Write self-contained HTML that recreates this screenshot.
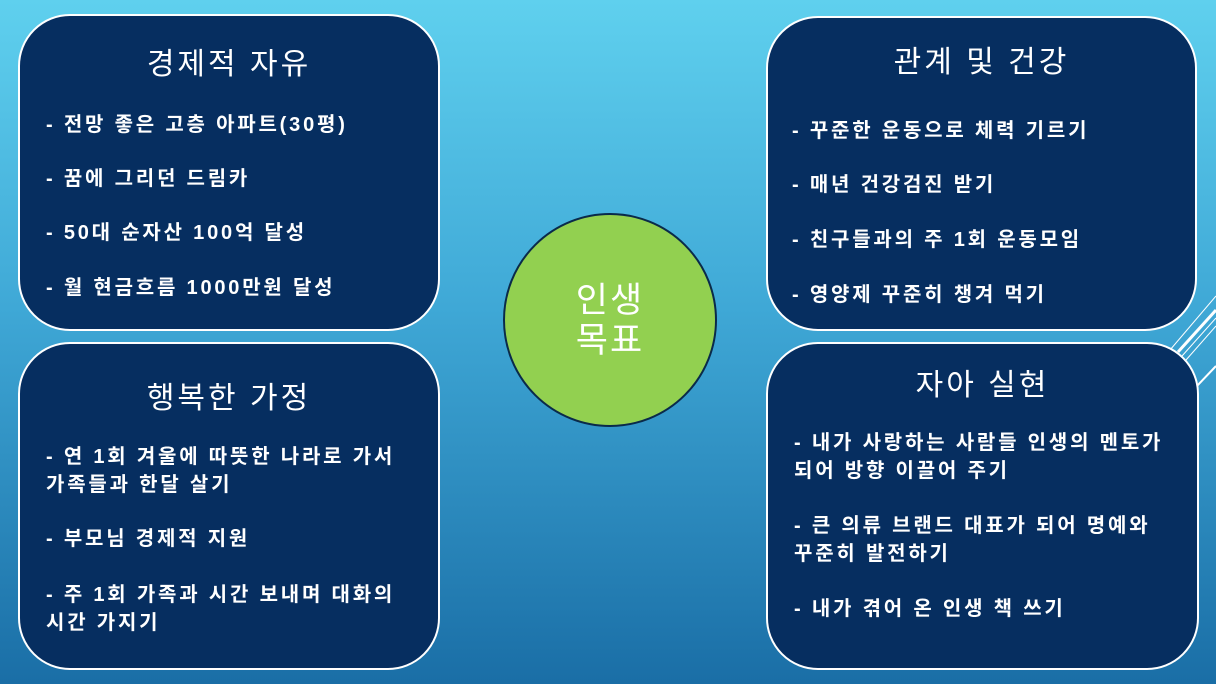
<!DOCTYPE html>
<html><head><meta charset="utf-8"><style>
body{margin:0;width:1216px;height:684px;overflow:hidden;position:relative;
background:linear-gradient(180deg,#5fd0ee 0%,#3fa8d6 45%,#1a6ea6 100%);
font-family:"Liberation Sans","Noto Sans CJK KR","NanumGothic",sans-serif;color:#fff}
.box{position:absolute;background:#062e60;border:2px solid #fff;border-radius:52px;box-sizing:border-box}
.t{position:absolute;left:0;right:0;text-align:center;font-size:30px;line-height:34px;letter-spacing:3px}
.i{position:absolute;font-size:20px;font-weight:bold;line-height:28px;white-space:nowrap;letter-spacing:2.8px}
.circ{position:absolute;left:503px;top:213px;width:214px;height:214px;border-radius:50%;background:#92d050;border:2px solid #0a2a4a;box-sizing:border-box;text-align:center;font-size:35px;line-height:40px;padding-top:66px;letter-spacing:2px}
</style></head><body>
<svg width="1216" height="684" style="position:absolute;left:0;top:0">
<g stroke="#fff" fill="none">
<line x1="1170" y1="350" x2="1216" y2="296" stroke-width="1"/>
<line x1="1178" y1="352" x2="1216" y2="310" stroke-width="3"/>
<line x1="1182" y1="356" x2="1216" y2="318" stroke-width="1"/>
<line x1="1186" y1="360" x2="1216" y2="326" stroke-width="1"/>
<line x1="1196" y1="387" x2="1216" y2="366" stroke-width="2"/>
</g></svg>
<div class="box" style="left:18px;top:14px;width:422px;height:317px">
<div class="t" style="top:32px">경제적 자유</div>
<div class="i" style="left:26px;top:95px">- 전망 좋은 고층 아파트(30평)</div>
<div class="i" style="left:26px;top:149px">- 꿈에 그리던 드림카</div>
<div class="i" style="left:26px;top:203px">- 50대 순자산 100억 달성</div>
<div class="i" style="left:26px;top:258px">- 월 현금흐름 1000만원 달성</div>
</div>
<div class="box" style="left:18px;top:342px;width:422px;height:328px">
<div class="t" style="top:38px">행복한 가정</div>
<div class="i" style="left:26px;top:99px">- 연 1회 겨울에 따뜻한 나라로 가서<br>가족들과 한달 살기</div>
<div class="i" style="left:26px;top:181px">- 부모님 경제적 지원</div>
<div class="i" style="left:26px;top:237px">- 주 1회 가족과 시간 보내며 대화의<br>시간 가지기</div>
</div>
<div class="box" style="left:766px;top:16px;width:431px;height:315px">
<div class="t" style="top:28px">관계 및 건강</div>
<div class="i" style="left:24px;top:99px">- 꾸준한 운동으로 체력 기르기</div>
<div class="i" style="left:24px;top:153px">- 매년 건강검진 받기</div>
<div class="i" style="left:24px;top:208px">- 친구들과의 주 1회 운동모임</div>
<div class="i" style="left:24px;top:263px">- 영양제 꾸준히 챙겨 먹기</div>
</div>
<div class="box" style="left:766px;top:342px;width:433px;height:328px">
<div class="t" style="top:25px">자아 실현</div>
<div class="i" style="left:26px;top:85px">- 내가 사랑하는 사람들 인생의 멘토가<br>되어 방향 이끌어 주기</div>
<div class="i" style="left:26px;top:168px">- 큰 의류 브랜드 대표가 되어 명예와<br>꾸준히 발전하기</div>
<div class="i" style="left:26px;top:251px">- 내가 겪어 온 인생 책 쓰기</div>
</div>
<div class="circ">인생<br>목표</div>
</body></html>
